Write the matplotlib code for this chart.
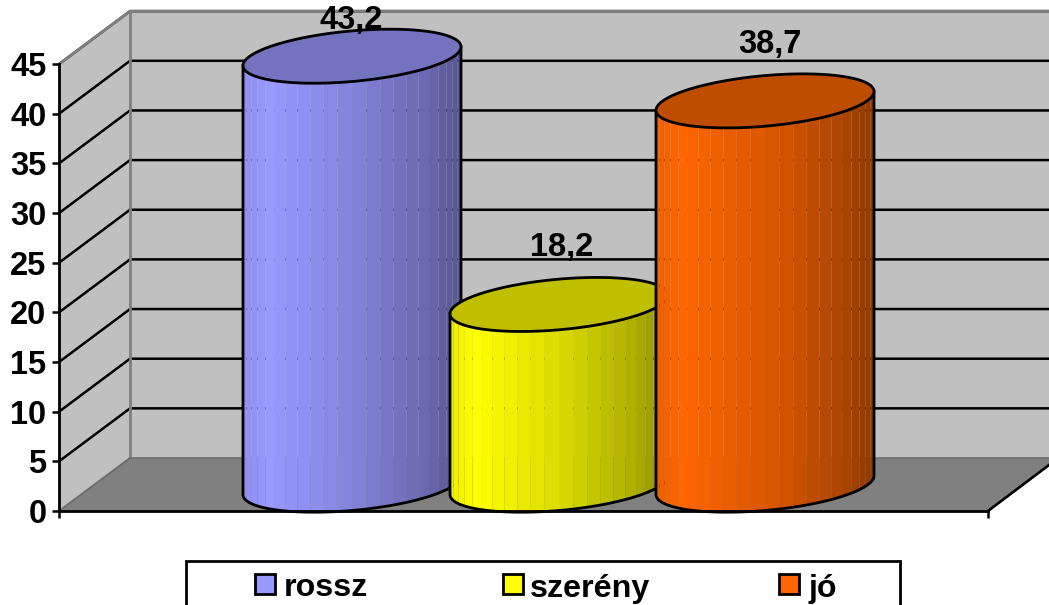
from matplotlib import pyplot as plt
from matplotlib.collections import PolyCollection
import matplotlib.patches
import numpy as np

plt.rcParams['font.family'] = ['Liberation Sans', 'DejaVu Sans']
plt.rcParams['font.weight'] = 'bold'

categories = ['rossz', 'szerény', 'jó']
values = [43.2, 18.2, 38.7]
value_labels = ['43,2', '18,2', '38,7']
ticks = [0, 5, 10, 15, 20, 25, 30, 35, 40, 45]
side_colors = ['#9999FF', '#FFFF00', '#FF6600']
top_colors = ['#7373BF', '#BFBF00', '#BF4D00']

# the picture is laid out in pixels along x, y stays in value units
unit = 9.93
zero_px = 511
depth_x = 71
depth_y = 53 / unit
x_left = 59
x_right = 988


def py(pixel):
    return (zero_px - pixel) / unit


fig = plt.figure(figsize=(10.49, 6.05), dpi=100)
ax = fig.add_axes((0, 0, 1, 1))
ax.set_xlim(0, 1049)
ax.set_ylim(py(605), py(0))
ax.patch.set_visible(False)

top = ticks[-1]
x_back = x_left + depth_x

# walls and floor
ax.add_patch(matplotlib.patches.Polygon(
    [(x_back, depth_y), (1049, depth_y), (1049, top + depth_y), (x_back, top + depth_y)],
    facecolor='#C0C0C0', edgecolor='none', zorder=0.1))
ax.add_patch(matplotlib.patches.Polygon(
    [(x_left, 0), (x_back, depth_y), (x_back, top + depth_y), (x_left, top)],
    facecolor='#C0C0C0', edgecolor='none', zorder=0.1))
ax.add_patch(matplotlib.patches.Polygon(
    [(x_left, 0), (x_back, depth_y), (1049, depth_y), (1049, py(465)), (x_right, 0)],
    facecolor='#808080', edgecolor='none', zorder=0.1))

for t in ticks[1:]:
    ax.plot([x_left, x_back, 1049], [t, t + depth_y, t + depth_y], color='k', lw=1.8,
            zorder=0.3, solid_joinstyle='miter')

wall = dict(color='#808080', lw=2.0, zorder=0.4, solid_capstyle='butt')
ax.plot([x_left, x_back, 1049], [top, top + depth_y, top + depth_y], **wall)
ax.plot([x_back, x_back], [depth_y, top + depth_y], **wall)
ax.plot([x_left, x_back], [0, depth_y], color='#6E6E6E', lw=1.4, zorder=0.4)
ax.plot([x_back, 1049], [depth_y, depth_y], color='#6E6E6E', lw=1.2, zorder=0.4)
ax.plot([x_right, 1049], [0, py(465)], color='k', lw=1.9, zorder=0.4)

# cylinders
centers = [352, 559, 765]
half_w = 109
semi_b = 2.55
shear = 0.95
lift = 2.6
n_strips = 24
label_dx = [-1, 3, 5]
label_ceiling = py(21)


def rim(cx, cy, t):
    return np.column_stack((cx + half_w * np.cos(t),
                            cy + shear * np.cos(t) + semi_b * np.sin(t)))


def shaded(color, frac):
    rgb = np.array(matplotlib.colors.to_rgb(color))
    return rgb * np.interp(frac, [0, 0.12, 0.5, 0.85, 1], [0.93, 1, 0.86, 0.68, 0.56])


for i, v in enumerate(values):
    cx = centers[i]
    z = 1 + i * 0.3
    edges = np.linspace(np.pi, 2 * np.pi, n_strips + 1)
    strips = []
    colors = []
    for a, b in zip(edges[:-1], edges[1:]):
        t = np.linspace(a, b, 6)
        low = rim(cx, lift, t)
        high = rim(cx, lift + v, t)[::-1]
        strips.append(np.vstack((low, high)))
        colors.append(shaded(side_colors[i], (np.cos(a) + np.cos(b)) / 4 + 0.5))
    ax.add_collection(PolyCollection(strips, facecolors=colors, edgecolors='none', zorder=z))

    t = np.linspace(np.pi, 2 * np.pi, 80)
    outline = np.vstack((rim(cx, lift + v, t[:1]), rim(cx, lift, t), rim(cx, lift + v, t[-1:])))
    ax.plot(outline[:, 0], outline[:, 1], color='k', lw=2.0, zorder=z + 0.1)
    full = np.linspace(0, 2 * np.pi, 160)
    ax.add_patch(matplotlib.patches.Polygon(rim(cx, lift + v, full), facecolor=top_colors[i],
                                            edgecolor='k', lw=2.0, zorder=z + 0.2))
    ax.text(cx + label_dx[i], min(v + 8.3, label_ceiling), value_labels[i], fontsize=23.5,
            ha='center', va='center', color='k', zorder=3)

# real axis lines
for name in ['top', 'right']:
    ax.spines[name].set_visible(False)
ax.spines['left'].set_position(('data', x_left))
ax.spines['left'].set_bounds(0, top)
ax.spines['bottom'].set_position(('data', 0))
ax.spines['bottom'].set_bounds(x_left, x_right)
for name in ['left', 'bottom']:
    ax.spines[name].set_linewidth(2.0)
ax.set_yticks(ticks)
ax.set_yticklabels([str(t) for t in ticks], fontsize=23.5)
ax.set_xticks([x_left, x_right])
ax.set_xticklabels([])
ax.tick_params(axis='y', length=5, width=1.8, pad=4)
ax.tick_params(axis='x', length=5, width=1.8)

# legend, the box runs off the bottom of the picture
ax.plot([186, 186, 900, 900], [py(606), py(561), py(561), py(606)], color='k', lw=2.0,
        zorder=3, solid_joinstyle='miter')
swatch_x = [255, 503, 779]
text_x = [284, 530, 808]
for i, name in enumerate(categories):
    ax.add_patch(matplotlib.patches.Rectangle((swatch_x[i], py(594)), 20, 20 / unit,
                                              facecolor=side_colors[i], edgecolor='k',
                                              lw=2.0, zorder=3))
    ax.text(text_x[i], py(585), name, fontsize=23.2, ha='left', va='center_baseline', zorder=3)

plt.savefig('out.png', dpi=100)
